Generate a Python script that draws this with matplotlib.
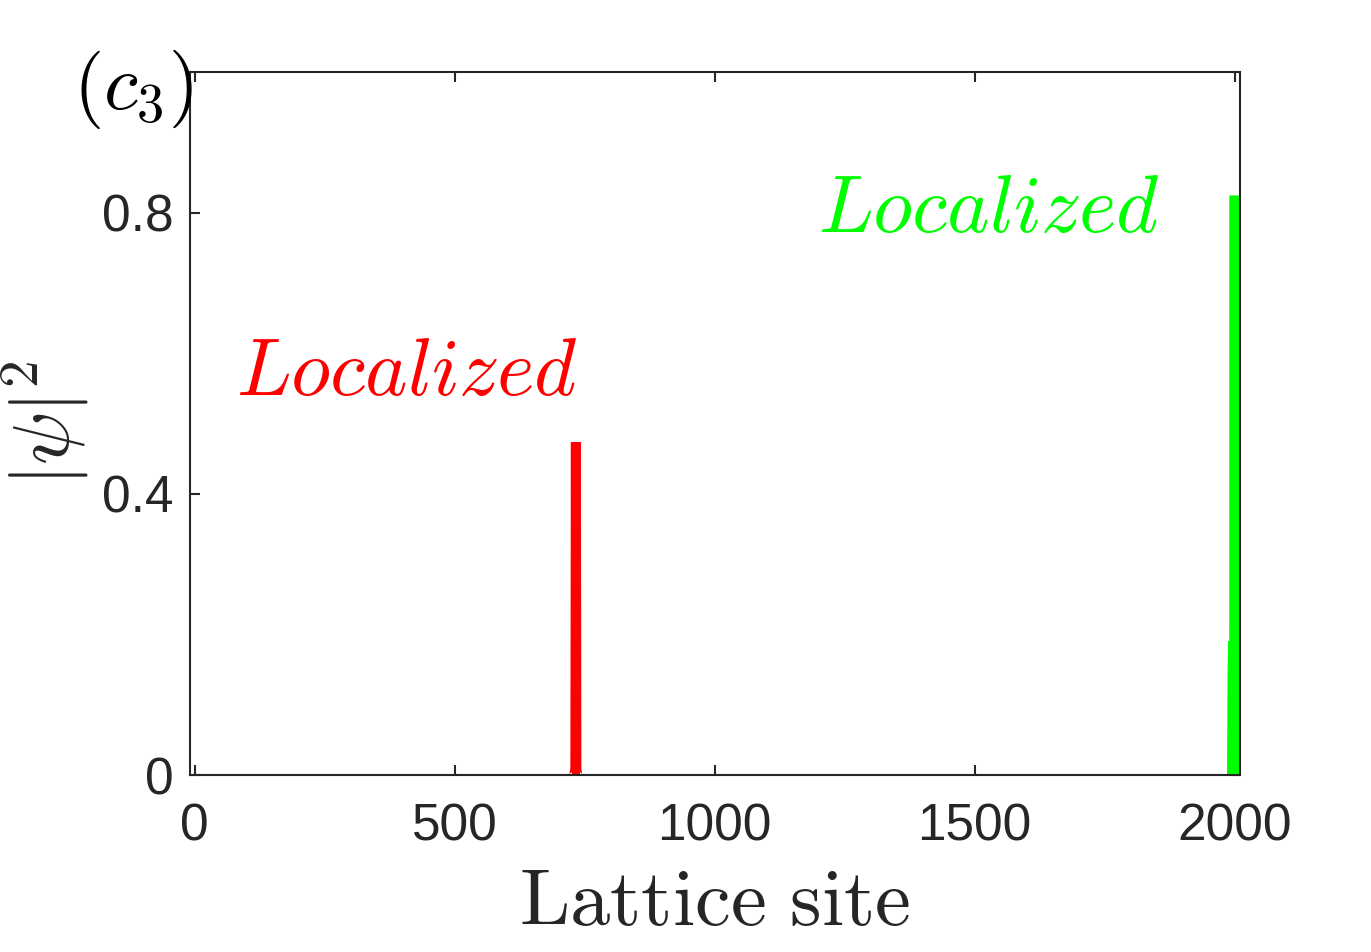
import numpy as np
import matplotlib
matplotlib.use('Agg')
import matplotlib.pyplot as plt

# 数据: 局域态的格点与 |psi|^2 值 (只取峰附近的格点, 其余为 0)
red_sites = [726, 728, 730, 731, 732, 733, 734, 735, 736, 738, 740]
red_vals = [0.0, 0.0, 0.0, 0.004, 0.01, 0.473, 0.008, 0.003, 0.0, 0.0, 0.0]

green_sites = [1988, 1990, 1992, 1993, 1994, 1995, 1996, 1997, 1998, 1999, 2000]
green_vals = [0.0, 0.0, 0.0, 0.0, 0.0, 0.145, 0.19, 0.02, 0.0, 0.824, 0.0]

xticks = [0, 500, 1000, 1500, 2000]
yticks = [0, 0.4, 0.8]
ytick_labels = ['0', '0.4', '0.8']

dark = '#262626'
plt.rcParams['mathtext.fontset'] = 'cm'
plt.rcParams['font.family'] = ['Liberation Sans', 'DejaVu Sans']

fig = plt.figure(figsize=(13.71, 9.52), dpi=100)
ax = fig.add_axes([0.1386, 0.1859, 0.7658, 0.7385])

ax.plot(red_sites, red_vals, color='red', lw=7.2,
        solid_joinstyle='bevel', solid_capstyle='butt')
ax.plot(green_sites, green_vals, color='#00ff00', lw=6.6,
        solid_joinstyle='bevel', solid_capstyle='butt')

ax.set_xlim(-9, 2010)
ax.set_ylim(0, 1.0)
ax.set_xticks(xticks)
ax.set_yticks(yticks)
ax.set_yticklabels(ytick_labels)

for s in ax.spines.values():
    s.set_color(dark)
    s.set_linewidth(1.5)
ax.tick_params(direction='in', length=7, width=1.5, color=dark,
               labelcolor=dark, labelsize=37, top=True, right=True)
ax.tick_params(axis='x', pad=20)
ax.tick_params(axis='y', pad=12)

ax.set_xlabel(r'$\mathrm{Lattice\ site}$', fontsize=58, color=dark, labelpad=10)
ax.set_ylabel(r'$|\psi|^2$', fontsize=57, color=dark)
ax.yaxis.set_label_coords(-0.094, 0.5)

ax.text(80, 0.54, r'$Localized$', color='red', fontsize=58,
        ha='left', va='baseline')
ax.text(1198, 0.772, r'$Localized$', color='#00ff00', fontsize=58,
        ha='left', va='baseline')

ax.text(0.003, 0.975, r'$(c_3)$', transform=ax.transAxes, fontsize=56,
        ha='right', va='center')

fig.savefig('out.png', dpi=100)
